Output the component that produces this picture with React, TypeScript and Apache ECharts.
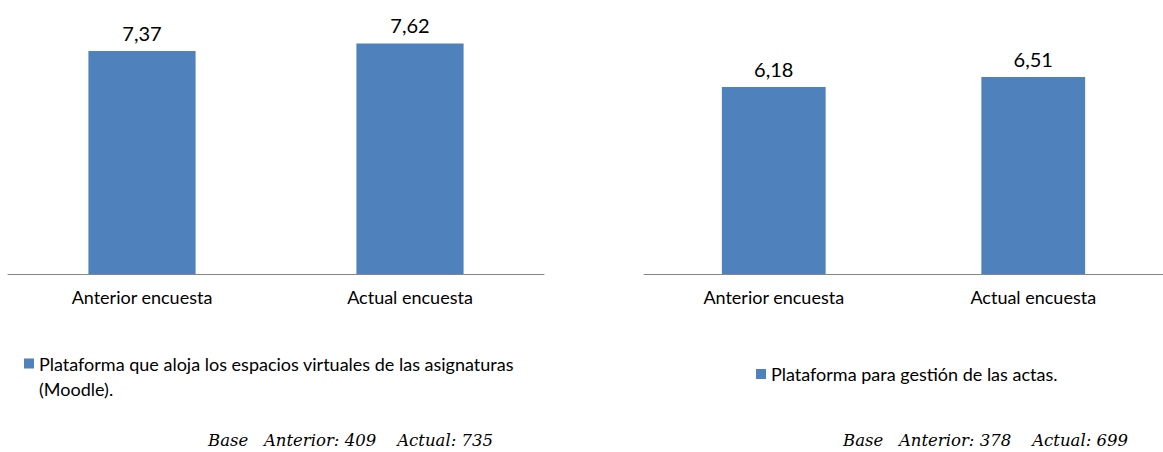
import React, { useEffect, useRef } from "react";
import * as echarts from "echarts";

const categories = ["Anterior encuesta", "Actual encuesta"];
const seriesNames = [
  "Plataforma que aloja los espacios virtuales de las asignaturas (Moodle).",
  "Plataforma para gestión de las actas.",
];
const moodleValues = [7.37, 7.62];
const actasValues = [6.18, 6.51];
const baseAnterior = [409, 378];
const baseActual = [735, 699];

const FONT = "Lato, 'Open Sans', sans-serif";
const BAR_COLOR = "#4F81BD";

export default function App() {
  const ref = useRef<HTMLDivElement>(null);
  useEffect(() => {
    if (!ref.current) return;
    const chart = echarts.init(ref.current, undefined, { renderer: "svg" });
    const fmt = (p: any) => Number(p.value).toFixed(2).replace(".", ",");
    const mkSeries = (i: number, data: number[]) => ({
      type: "bar",
      name: seriesNames[i],
      xAxisIndex: i,
      yAxisIndex: i,
      data,
      barWidth: "40%",
      itemStyle: { color: BAR_COLOR },
      label: {
        show: true,
        position: "top",
        distance: 8,
        formatter: fmt,
        fontSize: 20,
        color: "#000",
        fontFamily: FONT,
      },
    });
    const baseText = (i: number) =>
      "Base\u00A0\u00A0\u00A0Anterior:\u00A0" +
      baseAnterior[i] +
      "\u00A0\u00A0\u00A0\u00A0Actual:\u00A0" +
      baseActual[i];
    const option: any = {
      animation: false,
      grid: [
        { left: 8, top: 32, width: 536, height: 242 },
        { left: 644, top: 32, width: 532, height: 242 },
      ],
      xAxis: [0, 1].map((i) => ({
        type: "category",
        gridIndex: i,
        data: categories,
        axisLine: { lineStyle: { color: "#868686", width: 1 } },
        axisTick: { length: 5, lineStyle: { color: "#868686" } },
        axisLabel: { color: "#000", fontSize: 18, fontFamily: FONT, margin: 14 },
      })),
      yAxis: [0, 1].map((i) => ({
        type: "value",
        gridIndex: i,
        min: 0,
        max: 8,
        show: false,
      })),
      series: [mkSeries(0, moodleValues), mkSeries(1, actasValues)],
      legend: [
        {
          data: [seriesNames[0]],
          left: 24,
          top: 351,
          padding: 0,
          icon: "path://M0,0h10v10h-10zM0,35v0",
          itemWidth: 10,
          itemHeight: 35,
          selectedMode: false,
          textStyle: {
            fontSize: 18,
            color: "#000",
            fontFamily: FONT,
            width: 520,
            overflow: "break",
            lineHeight: 25,
          },
        },
        {
          data: [seriesNames[1]],
          left: 756,
          top: 365,
          padding: 0,
          icon: "rect",
          itemWidth: 10,
          itemHeight: 10,
          selectedMode: false,
          textStyle: { fontSize: 18, color: "#000", fontFamily: FONT },
        },
      ],
      graphic: [
        {
          type: "text",
          x: 208,
          y: 440,
          style: {
            text: baseText(0),
            font: "italic 16.5px 'DejaVu Serif'",
            fill: "#000",
            verticalAlign: "middle",
          },
        },
        {
          type: "text",
          x: 843,
          y: 440,
          style: {
            text: baseText(1),
            font: "italic 16.5px 'DejaVu Serif'",
            fill: "#000",
            verticalAlign: "middle",
          },
        },
      ],
    };
    chart.setOption(option);
    return () => chart.dispose();
  }, []);
  return (
    <div
      ref={ref}
      style={{ position: "fixed", left: 0, top: 0, width: 1163, height: 452, background: "#fff" }}
    />
  );
}
